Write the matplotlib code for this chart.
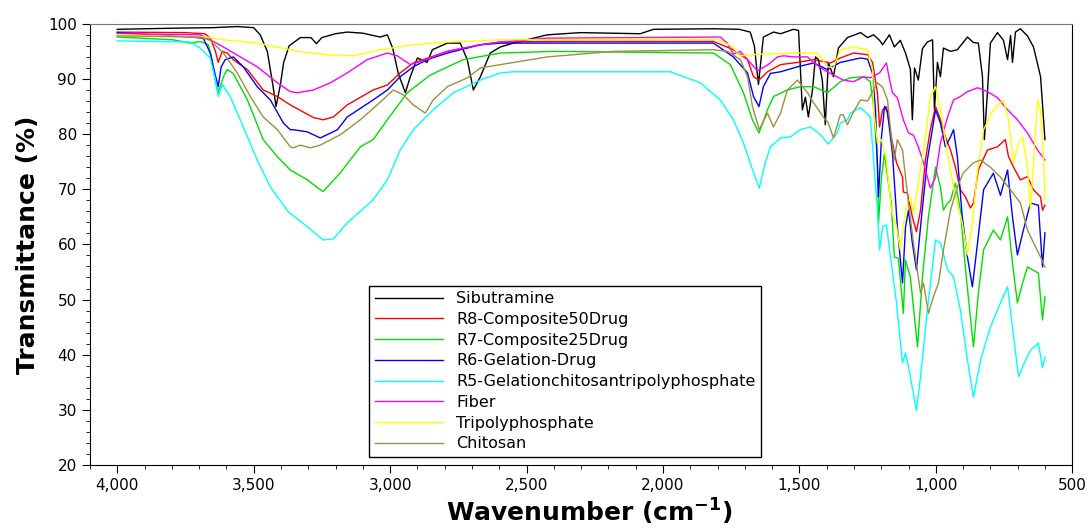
import matplotlib
matplotlib.use('Agg')
import matplotlib.pyplot as plt
from matplotlib.ticker import MultipleLocator, FuncFormatter

# Series (wavenumber cm-1, transmittance %)
sib_wn = [4000, 3800, 3650, 3560, 3500, 3476, 3450, 3430, 3418, 3402, 3390, 3370, 3329, 3290, 3270, 3250,
          3200, 3157, 3100, 3036, 3010, 2990, 2970, 2944, 2926, 2900, 2864, 2845, 2790, 2743, 2717, 2695,
          2669, 2633, 2596, 2548, 2424, 2303, 2083, 2035, 1815, 1720, 1680, 1665, 1650, 1632, 1595, 1569,
          1522, 1503, 1489, 1478, 1467, 1452, 1441, 1430, 1416, 1405, 1394, 1375, 1357, 1324, 1276, 1250,
          1228, 1206, 1195, 1170, 1152, 1130, 1111, 1093, 1086, 1078, 1064, 1049, 1031, 1012, 1005, 994,
          983, 972, 946, 921, 884, 862, 844, 829, 822, 811, 800, 774, 752, 737, 726, 719, 708, 690, 664,
          642, 616, 600]
sib_t = [99, 99.2, 99.3, 99.5, 99.3, 98, 95, 89, 85, 89, 93, 96, 97.5, 97.5, 96.4, 97.5,
         98.2, 98.5, 98.3, 97.6, 98, 95.5, 91, 87.5, 90.4, 93.8, 93, 95.3, 96.5, 96.5, 93.5, 88,
         90.4, 94.7, 95.8, 96.5, 98, 98.4, 98.2, 99, 99.1, 99, 98.5, 96, 89, 97.6, 98.5, 98.2,
         99, 98.8, 84.4, 86.7, 83.1, 88, 94, 93.5, 89.8, 81.7, 93, 90.4, 95.6, 97.5, 98.4, 97.5,
         98, 97, 96.2, 98, 95.8, 97, 94.7, 91.7, 82.6, 92, 89.8, 95.5, 96.7, 97.1, 84.4, 93,
         90.4, 95.6, 95, 95.3, 97.6, 96.6, 96.5, 90.4, 79, 87.5, 96.5, 98.4, 97, 93.5, 97.9, 93, 98.5, 99.1, 97.8,
         95.8, 90.4, 79]

r8_wn = [4000, 3750, 3680, 3660, 3640, 3630, 3615, 3597, 3575, 3523, 3465, 3413, 3366, 3281, 3245, 3208,
         3157, 3062, 3010, 2963, 2915, 2790, 2669, 2596, 2400, 1815, 1742, 1690, 1668, 1648, 1617, 1569,
         1507, 1448, 1386, 1350, 1302, 1250, 1232, 1214, 1206, 1195, 1181, 1163, 1144, 1122, 1119, 1104,
         1086, 1071, 1056, 1038, 1020, 1001, 983, 965, 946, 928, 910, 891, 873, 862, 844, 811, 774, 745,
         734, 715, 690, 664, 642, 616, 609, 600]
r8_t = [98.5, 98.4, 98.2, 97.5, 95, 93, 95, 94.7, 93.5, 91.7, 88, 86.8, 85.3, 83, 82.6, 83.1,
        85.3, 88, 88.9, 91.1, 92.9, 95, 96.2, 96.7, 96.8, 96.8, 95.3, 93.5, 90.4, 89.8, 91.3, 92.6,
        93, 93.5, 92.9, 93.8, 94.7, 94.4, 93, 87.5, 81.3, 84.4, 85, 79.5, 74.8, 72.2, 69.5, 69.3,
        65, 62.3, 66.2, 75.3, 80.8, 85, 82.6, 79.5, 77.1, 74, 69.9, 68.6, 66.6, 67.5, 73.5, 77.1, 77.7, 79,
        76, 74, 71.7, 72.3, 69.9, 68.6, 66.2, 67.1]

r7_wn = [4000, 3916, 3795, 3732, 3696, 3666, 3652, 3641, 3630, 3611, 3597, 3575, 3523, 3465, 3413, 3366,
         3303, 3256, 3245, 3182, 3109, 3062, 3010, 2937, 2853, 2732, 2596, 2400, 1815, 1753, 1705, 1672,
         1648, 1617, 1595, 1544, 1496, 1448, 1397, 1350, 1313, 1265, 1240, 1228, 1214, 1210, 1199, 1188,
         1177, 1163, 1152, 1137, 1119, 1111, 1093, 1067, 1049, 1027, 1001, 983, 972, 957, 946, 928, 910,
         891, 862, 844, 825, 789, 763, 737, 719, 701, 682, 664, 624, 609, 600]
r7_t = [97.6, 97.4, 97.1, 96.5, 96.8, 96.2, 93.5, 89.8, 87.5, 90.4, 91.7, 91, 86.2, 79, 75.9, 73.5,
        71.7, 69.9, 69.6, 73, 77.7, 79, 82.6, 87.5, 90.7, 93.5, 94.7, 95, 94.7, 92.6, 87.5, 82.6,
        80.2, 84.4, 86.8, 88, 88.6, 88.6, 87.5, 89.5, 90.2, 90.4, 89.5, 85, 74.8, 63.9, 72.2, 76.6,
        72.2, 67.5, 57.7, 57.5, 47.5, 57.2, 54, 41.4, 54.1, 65, 74, 70.4, 66.2, 67.5, 68, 71.1, 66.2,
        55.4, 41.4, 51.2, 59, 62.6, 60.8, 65, 56.6, 49.4, 53, 55.9, 54.8, 46.3, 50.5]

r6_wn = [4000, 3732, 3685, 3659, 3648, 3630, 3619, 3604, 3575, 3538, 3487, 3439, 3391, 3366, 3355, 3303,
         3256, 3193, 3157, 3062, 3010, 2963, 2915, 2864, 2790, 2669, 2596, 2303, 1815, 1742, 1690, 1668,
         1648, 1632, 1606, 1569, 1507, 1448, 1397, 1350, 1276, 1250, 1232, 1221, 1210, 1199, 1188, 1177,
         1159, 1141, 1122, 1111, 1100, 1086, 1071, 1056, 1031, 1001, 983, 965, 946, 935, 921, 903, 884,
         866, 847, 825, 789, 763, 737, 719, 701, 679, 653, 624, 609, 600]
r6_t = [98.4, 97.6, 97.4, 94.7, 92.2, 88.6, 92.2, 93.5, 94, 92.2, 88.6, 86.2, 82, 80.8, 80.8, 80.4,
        79.3, 80.8, 83.1, 86.2, 88, 90.4, 92.2, 93.5, 94.7, 96.2, 96.5, 96.5, 96.5, 94, 91.1, 86.8,
        85, 88.6, 91, 91.3, 92.2, 92.9, 91.7, 93, 93.8, 93.6, 91, 84.4, 68.6, 79.5, 85, 84,
        76.6, 63.2, 53, 63.2, 66.2, 60.3, 55.4, 63.2, 75.3, 84.4, 82, 77.7, 79.5, 80.8, 75.9, 65, 57.7,
        52.3, 60.3, 69.9, 72.9, 68.9, 73.5, 65, 58.1, 62.6, 67.5, 67.1, 55.9, 62.1]

r5_wn = [4000, 3732, 3696, 3659, 3641, 3630, 3615, 3586, 3538, 3487, 3439, 3373, 3303, 3245, 3208, 3157,
         3062, 3010, 2963, 2915, 2842, 2768, 2669, 2596, 2548, 1973, 1863, 1790, 1742, 1705, 1668, 1647,
         1625, 1606, 1569, 1533, 1496, 1459, 1423, 1394, 1361, 1350, 1324, 1313, 1276, 1240, 1228, 1214,
         1206, 1195, 1181, 1163, 1144, 1122, 1111, 1093, 1071, 1056, 1031, 1001, 983, 957, 935, 910, 884,
         862, 836, 800, 763, 737, 719, 697, 671, 653, 624, 609, 600]
r5_t = [96.9, 96.7, 95.6, 93.8, 90, 86.8, 89, 86.8, 81.3, 75.3, 70.4, 65.9, 63.2, 60.8, 61, 63.9,
        68.1, 71.7, 77.1, 80.8, 84.4, 87.5, 89.8, 91.1, 91.3, 91.3, 89.3, 86.2, 82.6, 78.4, 73, 70.2,
        74.8, 77.7, 79.3, 79.5, 80.8, 81.3, 79.9, 78.2, 80.2, 82, 82.6, 83.8, 84.8, 83.1, 75.3, 66.2,
        59, 63.2, 63.5, 56.6, 49.4, 38.5, 40.3, 36, 29.9, 36, 48.1, 60.8, 60.3, 55.4, 54.1, 48.1, 39,
        32.3, 39, 45, 49.4, 52.3, 45, 36, 39, 40.8, 42.1, 37.6, 39.6]

fib_wn = [4000, 3696, 3659, 3611, 3549, 3487, 3413, 3366, 3340, 3281, 3219, 3157, 3084, 3010, 2974, 2926,
          2900, 2853, 2790, 2669, 2596, 2424, 1790, 1764, 1742, 1716, 1690, 1654, 1617, 1580, 1558, 1522,
          1470, 1448, 1412, 1375, 1339, 1302, 1265, 1240, 1206, 1181, 1170, 1159, 1141, 1119, 1100, 1082,
          1064, 1045, 1020, 1001, 983, 957, 935, 910, 884, 847, 811, 774, 737, 701, 664, 627, 600]
fib_t = [98.2, 98, 97.1, 95.8, 94, 92.2, 89.3, 87.7, 87.5, 88, 89.3, 91.1, 93.5, 94.7, 94.2, 92.6,
         93, 93.8, 95, 96.2, 96.7, 97.4, 97.6, 96.5, 94.5, 95, 93.5, 91.5, 92.5, 94, 94.2, 94,
         94, 93, 91.7, 90.7, 89.8, 89.5, 90.4, 90.2, 91.1, 92.9, 90, 87.5, 86.6, 82.6, 80.2, 79.8,
         77.7, 74.8, 70.2, 72.2, 78.4, 83.1, 86.2, 86.8, 87.7, 88.4, 87.7, 86.6, 84.4, 82.6, 80.2, 77.1, 75.3]

tpp_wn = [4000, 3670, 3611, 3487, 3366, 3340, 3230, 3135, 3036, 2915, 2790, 2596, 1800, 1750, 1716, 1643,
          1496, 1434, 1397, 1375, 1350, 1302, 1250, 1232, 1228, 1214, 1199, 1181, 1163, 1144, 1130, 1111,
          1093, 1082, 1064, 1038, 1020, 1001, 983, 965, 946, 928, 903, 884, 866, 847, 825, 789, 752, 734,
          715, 697, 682, 664, 653, 642, 627, 616, 605, 600]
tpp_t = [98, 97.6, 97.1, 96.5, 95.3, 95, 94.4, 94.2, 95.3, 96.2, 96.7, 97.1, 97.2, 96, 94.2, 94.5,
         94.7, 94.7, 92.2, 92, 95.3, 95.8, 95.3, 91.7, 84.4, 78.4, 79, 75.3, 66.2, 63.2, 59, 66.2,
         68.6, 65.7, 71.1, 79.5, 86.8, 88.6, 84.4, 79, 73.5, 68.6, 63.9, 58.1, 63.9, 73.5, 80.8, 84.4, 86.2, 82.6,
         74.8, 78.4, 79.5, 74, 66.2, 75, 86.2, 84.4, 75.3, 68.1]

chi_wn = [4000, 3696, 3659, 3611, 3560, 3512, 3465, 3413, 3366, 3355, 3329, 3292, 3256, 3182, 3109, 3036,
          2988, 2951, 2915, 2871, 2842, 2790, 2717, 2669, 2424, 2182, 1815, 1764, 1716, 1690, 1672, 1647,
          1617, 1595, 1569, 1544, 1507, 1470, 1448, 1412, 1394, 1375, 1350, 1339, 1324, 1302, 1276, 1250,
          1228, 1214, 1195, 1177, 1163, 1152, 1141, 1122, 1111, 1100, 1082, 1056, 1045, 1027, 1009, 990,
          972, 946, 921, 899, 862, 836, 800, 763, 726, 690, 664, 642, 616, 600]
chi_t = [97.8, 97.6, 97, 94.7, 91.1, 86.8, 83.1, 80.8, 77.7, 77.5, 78, 77.5, 78, 79.9, 82.6, 85.8,
         88, 87.1, 85.3, 83.8, 86.2, 88.6, 90.2, 92, 94, 95, 95.3, 95, 93.5, 90.4, 85, 80.8,
         83.8, 81.3, 83.8, 88, 89.8, 87.5, 85.7, 83.1, 82, 79.3, 83.5, 83.5, 81.7, 84, 86.2, 86,
         88, 89.3, 88.5, 86.2, 79.5, 75.3, 79, 77.1, 72.2, 67.5, 60.3, 51.2, 53, 47.5, 50.5, 53,
         59, 66.2, 70.4, 73, 74.8, 75.3, 74, 72.2, 69.9, 67.5, 62.6, 60.3, 57.7, 55.9]

labels = ['Sibutramine', 'R8-Composite50Drug', 'R7-Composite25Drug', 'R6-Gelation-Drug',
          'R5-Gelationchitosantripolyphosphate', 'Fiber', 'Tripolyphosphate', 'Chitosan']
colors = ['black', '#ff0000', '#00e000', '#0000ff', '#00ffff', '#ff00ff', '#ffff00', '#9c9040']
series = [(sib_wn, sib_t), (r8_wn, r8_t), (r7_wn, r7_t), (r6_wn, r6_t),
          (r5_wn, r5_t), (fib_wn, fib_t), (tpp_wn, tpp_t), (chi_wn, chi_t)]

fig = plt.figure(figsize=(10.89, 5.29), dpi=100)
ax = fig.add_axes([0.0826, 0.121, 0.902, 0.834])

for (wn, t), lab, col in zip(series, labels, colors):
    ax.plot(wn, t, color=col, linewidth=1.0, label=lab)

ax.set_xlim(4100, 500)
ax.set_ylim(20, 100)
ax.xaxis.set_major_locator(MultipleLocator(500))
ax.xaxis.set_minor_locator(MultipleLocator(100))
ax.yaxis.set_major_locator(MultipleLocator(10))
ax.yaxis.set_minor_locator(MultipleLocator(2))
ax.xaxis.set_major_formatter(FuncFormatter(lambda v, p: f'{int(v):,}'))
ax.tick_params(which='major', direction='out', length=6, labelsize=11)
ax.tick_params(which='minor', direction='out', length=3)
ax.spines['top'].set_color('#777777')

ax.set_xlabel('Wavenumber (cm$^{\\mathbf{-1}}$)', fontsize=18, fontweight='bold')
ax.xaxis.label.set_va('bottom')
ax.xaxis.set_label_coords(0.508, -0.141)
ax.set_ylabel('Transmittance (%)', fontsize=18, fontweight='bold', labelpad=6)

leg = ax.legend(loc='lower left', bbox_to_anchor=(0.284, 0.018), fontsize=11.5, frameon=True,
                fancybox=False, edgecolor='black', framealpha=1, labelspacing=0.36,
                handlelength=4.3, borderpad=0.35, borderaxespad=0)
leg.get_frame().set_linewidth(1.0)

plt.savefig('out.png', dpi=100)
plt.close()
